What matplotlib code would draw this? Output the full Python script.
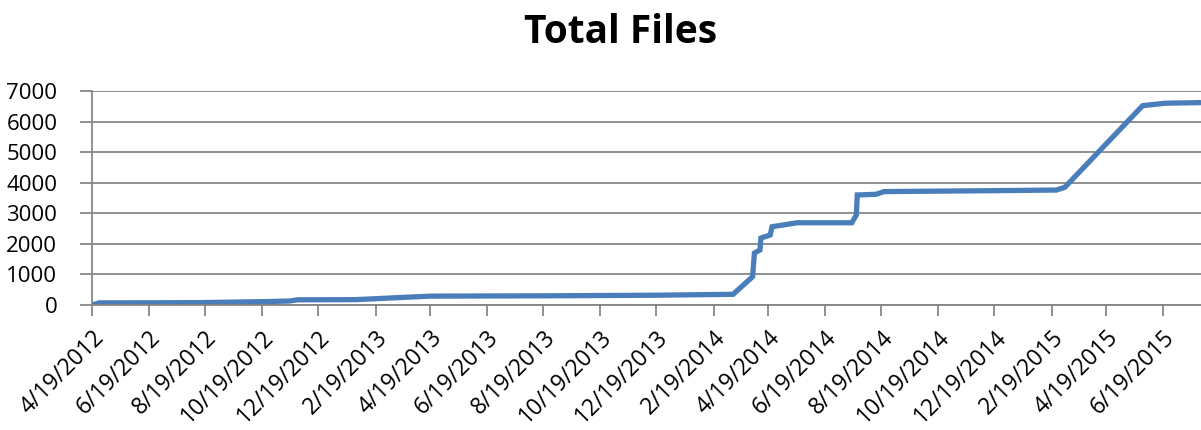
import numpy as np
import pandas as pd
import matplotlib
matplotlib.use('Agg')
import matplotlib.pyplot as plt
import matplotlib.dates as mdates

# values
dates = ['2012-04-19', '2012-04-27', '2012-06-19', '2012-08-13', '2012-10-22',
         '2012-11-18', '2012-11-27', '2013-01-28', '2013-04-19', '2013-08-19',
         '2013-12-19', '2014-03-12', '2014-04-02', '2014-04-04', '2014-04-10',
         '2014-04-11', '2014-04-21', '2014-04-23', '2014-05-20', '2014-07-18',
         '2014-07-23', '2014-07-24', '2014-08-13', '2014-08-22', '2014-12-19',
         '2015-02-24', '2015-03-05', '2015-05-28', '2015-06-21', '2015-07-30']
total_files = [0, 70, 72, 78, 110,
               130, 170, 175, 290, 300,
               320, 350, 925, 1700, 1800,
               2190, 2290, 2560, 2690, 2690,
               2940, 3600, 3620, 3710, 3740,
               3760, 3850, 6520, 6600, 6620]
tick_dates = ['2012-04-19', '2012-06-19', '2012-08-19', '2012-10-19', '2012-12-19',
              '2013-02-19', '2013-04-19', '2013-06-19', '2013-08-19', '2013-10-19',
              '2013-12-19', '2014-02-19', '2014-04-19', '2014-06-19', '2014-08-19',
              '2014-10-19', '2014-12-19', '2015-02-19', '2015-04-19', '2015-06-19']
y_ticks = [0, 1000, 2000, 3000, 4000, 5000, 6000, 7000]

x = pd.to_datetime(dates)
tx = pd.to_datetime(tick_dates)

plt.rcParams['font.family'] = ['Open Sans', 'DejaVu Sans']

fig = plt.figure(figsize=(12.01, 4.30), dpi=100)
ax = fig.add_axes([92 / 1201, 1 - 305 / 430, 1 - 92 / 1201, (305 - 91) / 430])

ax.plot(x, total_files, color='#4A7EBB', linewidth=3.8, solid_joinstyle='miter')

ax.set_xlim(x[0], x[-1])
ax.set_ylim(0, 7000)
ax.set_yticks(y_ticks)
ax.set_xticks(tx)
ax.set_xticklabels([f'{d.month}/{d.day}/{d.year}' for d in tx],
                   rotation=45, ha='right', rotation_mode='anchor')
ax.tick_params(axis='both', colors='#878787', labelcolor='black',
               length=8, width=1.3, direction='out')
ax.tick_params(axis='x', pad=7, labelsize=16.5)
ax.tick_params(axis='y', pad=16, length=9, labelsize=16)
ax.grid(axis='y', color='#878787', linewidth=1.3)
ax.set_axisbelow(True)
for s in ['top', 'right']:
    ax.spines[s].set_visible(False)
for s in ['left', 'bottom']:
    ax.spines[s].set_color('#878787')
    ax.spines[s].set_linewidth(1.3)

fig.text(0.517, 0.925, 'Total Files', ha='center', va='center',
         fontsize=28, fontweight='bold')

fig.savefig('out.png', dpi=100)
